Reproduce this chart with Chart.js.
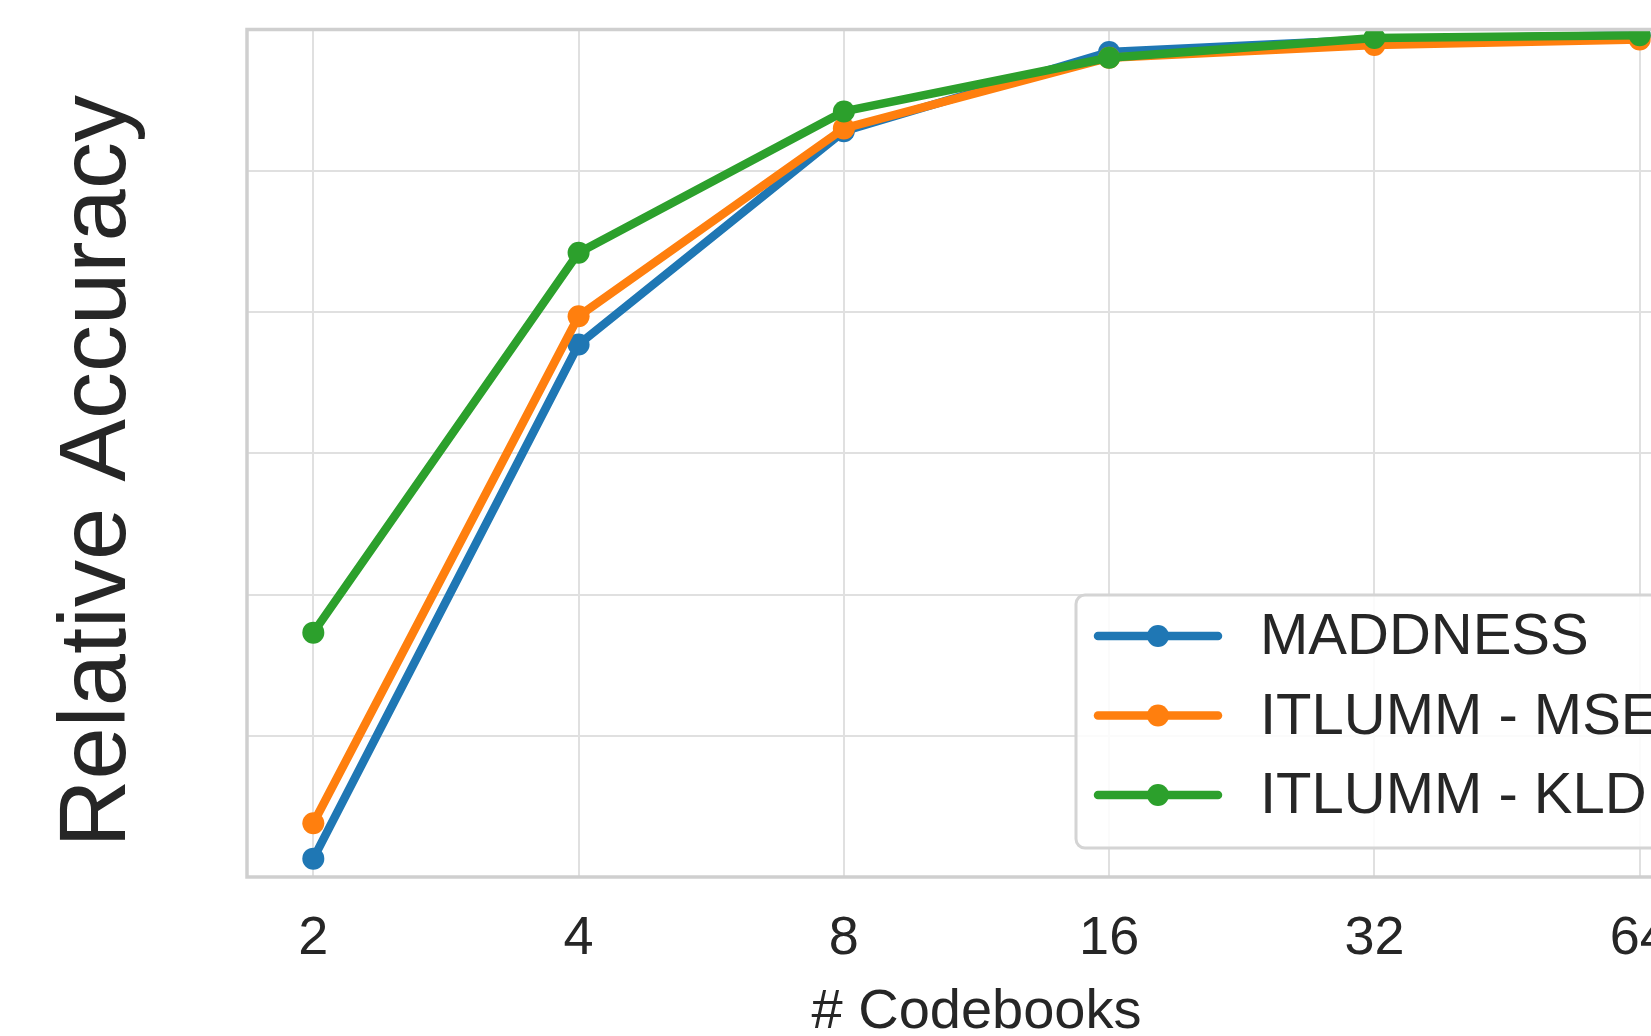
<!doctype html>
<html lang="en">
<head>
<meta charset="utf-8">
<title>Relative Accuracy vs # Codebooks</title>
<script src="https://cdn.jsdelivr.net/npm/chart.js@4.4.1/dist/chart.umd.min.js"></script>
<style>
 html,body{margin:0;padding:0;background:#fff;overflow:hidden}
 #wrap{width:1740px;height:1036px}
</style>
</head>
<body>
<div id="wrap"><canvas id="chart" width="1740" height="1036"></canvas></div>

<script>
/* ===== Daten ======================================================== */
const CODEBOOKS = [2, 4, 8, 16, 32, 64];
const SERIES_LABELS = ['MADDNESS', 'ITLUMM - MSE', 'ITLUMM - KLD'];
const MADDNESS = [0.413, 0.777, 0.928, 0.984, 0.993, 0.996];
const ITLUMM_MSE = [0.438, 0.797, 0.930, 0.980, 0.989, 0.993];
const ITLUMM_KLD = [0.573, 0.842, 0.942, 0.980, 0.994, 0.996];
const COLORS = ['#1f77b4', '#ff7f0e', '#2ca02c'];
const Y_TITLE = 'Relative Accuracy';
const X_TITLE = '# Codebooks';
const FONT = 'Liberation Sans, Arial, sans-serif';

/* ===== Rahmen um die Achsen (wie Seaborn-Spines) ==================== */
const frame = {
  id: 'frame',
  afterDatasetsDraw(chart){
    const {ctx, chartArea:a} = chart;
    ctx.save();
    ctx.strokeStyle = '#cfcfcf';
    ctx.lineWidth = 3.5;
    ctx.strokeRect(a.left, a.top, a.right - a.left, a.bottom - a.top);
    ctx.restore();
  }
};

/* ===== y-Titel (etwas unter der Mitte, wie im Original) ============= */
const yTitle = {
  id: 'yTitle',
  afterDraw(chart){
    const {ctx, chartArea:a} = chart;
    ctx.save();
    ctx.translate(99, (a.top + a.bottom) / 2 + 18);
    ctx.rotate(-Math.PI / 2);
    ctx.font = `94px ${FONT}`;
    ctx.fillStyle = '#262626';
    ctx.textAlign = 'center';
    ctx.textBaseline = 'middle';
    ctx.fillText(Y_TITLE, 0, 0);
    ctx.restore();
  }
};

/* ===== Legende im Plot (unten rechts) =============================== */
const boxLegend = {
  id: 'boxLegend',
  afterDraw(chart){
    const {ctx, chartArea:a} = chart;
    const w = 601, h = 253, rowH = 79.5;
    const x0 = a.right - 29 - w, y0 = a.bottom - 29 - h;
    ctx.save();
    ctx.beginPath();
    ctx.roundRect(x0, y0, w, h, 9);
    ctx.fillStyle = 'rgba(255,255,255,0.85)';
    ctx.fill();
    ctx.strokeStyle = '#d4d4d4';
    ctx.lineWidth = 3;
    ctx.stroke();
    ctx.font = `58px ${FONT}`;
    ctx.textBaseline = 'middle';
    chart.data.datasets.forEach((ds, i) => {
      const cy = y0 + 41 + i * rowH;
      ctx.strokeStyle = ds.borderColor;
      ctx.lineWidth = 8.5;
      ctx.lineCap = 'round';
      ctx.beginPath();
      ctx.moveTo(x0 + 22, cy);
      ctx.lineTo(x0 + 142, cy);
      ctx.stroke();
      ctx.fillStyle = ds.borderColor;
      ctx.beginPath();
      ctx.arc(x0 + 82, cy, 11, 0, Math.PI * 2);
      ctx.fill();
      ctx.fillStyle = '#262626';
      ctx.fillText(ds.label, x0 + 184, cy + 2);
    });
    ctx.restore();
  }
};

const seriesData = [MADDNESS, ITLUMM_MSE, ITLUMM_KLD];
const datasets = seriesData.map((vals, i) => ({
  label: SERIES_LABELS[i],
  data: CODEBOOKS.map((c, j) => ({x: c, y: vals[j]})),
  borderColor: COLORS[i],
  backgroundColor: COLORS[i],
  borderWidth: 8.5,
  pointRadius: 11,
  pointHoverRadius: 11,
  pointBorderWidth: 0,
  borderCapStyle: 'round',
  borderJoinStyle: 'round',
  tension: 0,
  order: 3 - i          // KLD oben, MADDNESS unten
}));

new Chart(document.getElementById('chart'), {
  type: 'line',
  data: {datasets},
  options: {
    responsive: false,
    animation: false,
    devicePixelRatio: 1,
    events: [],
    layout: {padding: {top: 29.5, right: 34, bottom: 0, left: 0}},
    plugins: {legend: {display: false}, tooltip: {enabled: false}},
    scales: {
      x: {
        type: 'logarithmic',
        bounds: 'data',
        min: CODEBOOKS[0] / Math.pow(2, 0.25),
        max: CODEBOOKS[CODEBOOKS.length - 1] * Math.pow(2, 0.25),
        afterBuildTicks: s => { s.ticks = CODEBOOKS.map(v => ({value: v})); },
        afterFit: s => { s.height = 159; },
        grid: {color: '#e0e0e0', lineWidth: 2, drawTicks: false},
        border: {display: false},
        ticks: {
          callback: v => String(v),
          color: '#262626',
          padding: 30,
          maxRotation: 0,
          autoSkip: false,
          font: {family: FONT, size: 54}
        },
        title: {
          display: true,
          text: X_TITLE,
          color: '#262626',
          padding: {top: 0, bottom: 0},
          font: {family: FONT, size: 56, lineHeight: 0.84}
        }
      },
      y: {
        min: 0.4,
        max: 1.0,
        afterFit: s => { s.width = 247; },
        grid: {color: '#e0e0e0', lineWidth: 2, drawTicks: false},
        border: {display: false},
        ticks: {display: false, stepSize: 0.1},
        title: {display: false}
      }
    }
  },
  plugins: [frame, yTitle, boxLegend]
});
</script>
</body>
</html>
